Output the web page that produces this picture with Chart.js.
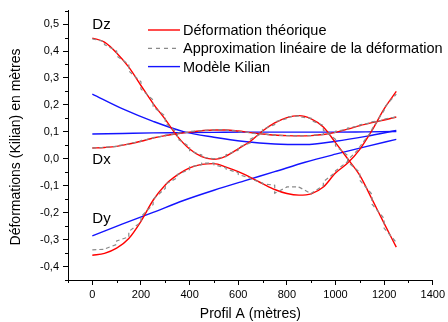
<!DOCTYPE html>
<html lang="fr">
<head>
<meta charset="utf-8">
<script src="https://cdn.jsdelivr.net/npm/chart.js@4.4.1/dist/chart.umd.min.js"></script>
<style>
  html, body { margin: 0; padding: 0; background: #fff; }
  #wrap { width: 448px; height: 322px; }
</style>
</head>
<body>
<div id="wrap"><canvas id="deformChart" width="448" height="322"></canvas></div>
<script>
// Profil A (mètres) - abscisses des courbes théoriques
const profil = [0, 50, 100, 150, 200, 250, 300, 350, 400, 450, 500, 550, 600,
                650, 700, 750, 800, 850, 900, 950, 1000, 1050, 1100, 1150, 1200, 1250];

// Déformation théorique
const dzTheorique = [0.448, 0.433, 0.393, 0.340, 0.272, 0.205, 0.146, 0.083, 0.036, 0.008, -0.002, 0.010, 0.037,
                     0.065, 0.103, 0.133, 0.153, 0.160, 0.148, 0.118, 0.060, 0.000, -0.062, -0.150, -0.240, -0.328];
const dxTheorique = [0.040, 0.042, 0.046, 0.055, 0.065, 0.077, 0.086, 0.093, 0.099, 0.104, 0.107, 0.107, 0.103,
                     0.097, 0.092, 0.088, 0.086, 0.085, 0.086, 0.090, 0.098, 0.110, 0.123, 0.134, 0.144, 0.155];
const dyTheorique = [-0.358, -0.351, -0.332, -0.296, -0.232, -0.154, -0.097, -0.060, -0.034, -0.021, -0.018, -0.031, -0.048,
                     -0.069, -0.092, -0.114, -0.129, -0.135, -0.130, -0.105, -0.053, -0.016, 0.035, 0.105, 0.185, 0.250];

// Approximation linéaire : début et fin de chaque tronçon de 50 m
const dzApproxDebut = [0.445, 0.424, 0.382, 0.326, 0.259, 0.193, 0.133, 0.074, 0.030, 0.006, 0.000, 0.015, 0.043,
                       0.073, 0.109, 0.137, 0.155, 0.156, 0.142, 0.106, 0.048, -0.012, -0.080, -0.168, -0.258];
const dzApproxFin   = [0.435, 0.400, 0.350, 0.286, 0.218, 0.158, 0.096, 0.045, 0.014, 0.000, 0.008, 0.032, 0.059,
                       0.095, 0.127, 0.149, 0.159, 0.150, 0.124, 0.072, 0.012, -0.050, -0.132, -0.222, -0.310];
const dxApproxDebut = [0.040, 0.043, 0.049, 0.057, 0.068, 0.079, 0.088, 0.095, 0.101, 0.105, 0.108, 0.106, 0.101,
                       0.095, 0.091, 0.087, 0.086, 0.085, 0.087, 0.093, 0.102, 0.114, 0.126, 0.137, 0.147];
const dxApproxFin   = [0.042, 0.046, 0.054, 0.064, 0.076, 0.085, 0.093, 0.099, 0.104, 0.107, 0.108, 0.103, 0.097,
                       0.092, 0.088, 0.086, 0.085, 0.086, 0.090, 0.098, 0.110, 0.122, 0.134, 0.144, 0.155];
const dyApproxDebut = [-0.338, -0.335, -0.305, -0.270, -0.215, -0.150, -0.095, -0.058, -0.030, -0.016, -0.022, -0.038, -0.058,
                       -0.075, -0.093, -0.128, -0.104, -0.105, -0.128, -0.085, -0.045, -0.005, 0.045, 0.110, 0.190];
const dyApproxFin   = [-0.336, -0.318, -0.290, -0.235, -0.170, -0.110, -0.070, -0.040, -0.022, -0.016, -0.034, -0.052, -0.072,
                       -0.090, -0.098, -0.105, -0.104, -0.130, -0.100, -0.050, -0.010, 0.040, 0.105, 0.180, 0.240];

// Modèle Kilian
const profilKilian = [0, 125, 250, 375, 500, 625, 750, 875, 1000, 1125, 1250];
const dzKilian = [0.240, 0.185, 0.139, 0.101, 0.080, 0.064, 0.055, 0.053, 0.065, 0.083, 0.105];
const dxKilian = [0.092, 0.094, 0.096, 0.097, 0.098, 0.099, 0.099, 0.099, 0.099, 0.100, 0.101];
const dyKilian = [-0.286, -0.242, -0.199, -0.155, -0.117, -0.082, -0.048, -0.013, 0.017, 0.045, 0.072];

// Graduations
const graduationsX = [0, 200, 400, 600, 800, 1000, 1200, 1400];
const mineursX = [-100, 100, 300, 500, 700, 900, 1100, 1300];
const graduationsY = [-0.4, -0.3, -0.2, -0.1, 0.0, 0.1, 0.2, 0.3, 0.4, 0.5];
const mineursY = [-0.45, -0.35, -0.25, -0.15, -0.05, 0.05, 0.15, 0.25, 0.35, 0.45, 0.55];

const legende = ['Déformation théorique', 'Approximation linéaire de la déformation', 'Modèle Kilian'];
const police = "'Liberation Sans', Arial, sans-serif";
const ROUGE = '#ff0000';
const GRIS = '#8a8a8a';
const BLEU = '#1414ff';

function points(xs, ys) {
    return xs.map((x, i) => ({ x: x, y: ys[i] }));
}

// tronçons en escalier : chaque segment part du début et va à la fin, puis saut vertical
function escalier(debut, fin) {
    const pts = [];
    debut.forEach((v, i) => {
        pts.push({ x: profil[i], y: v });
        pts.push({ x: profil[i + 1], y: fin[i] });
    });
    return pts;
}

function theorique(ys) {
    return { label: legende[0], data: points(profil, ys), borderColor: ROUGE, borderWidth: 1.4,
             cubicInterpolationMode: 'monotone' };
}
function approx(debut, fin) {
    return { label: legende[1], data: escalier(debut, fin), borderColor: GRIS, borderWidth: 1.2,
             borderDash: [4, 3], tension: 0 };
}
function kilian(ys) {
    return { label: legende[2], data: points(profilKilian, ys), borderColor: BLEU, borderWidth: 1.4,
             cubicInterpolationMode: 'monotone' };
}

// Titres d'axes, étiquettes Dz/Dx/Dy, graduations mineures et légende
const decorPlugin = {
    id: 'decor',
    afterDraw(chart) {
        const ctx = chart.ctx;
        const xs = chart.scales.x, ys = chart.scales.y;
        const area = chart.chartArea;
        ctx.save();
        ctx.strokeStyle = '#000';
        ctx.lineWidth = 1;
        ctx.beginPath();
        mineursX.forEach(v => {
            const px = Math.round(xs.getPixelForValue(v)) + 0.5;
            ctx.moveTo(px, area.bottom);
            ctx.lineTo(px, area.bottom + 3);
        });
        mineursY.forEach(v => {
            const py = Math.round(ys.getPixelForValue(v)) + 0.5;
            ctx.moveTo(area.left - 3, py);
            ctx.lineTo(area.left, py);
        });
        ctx.stroke();

        ctx.fillStyle = '#000';
        ctx.font = '14px ' + police;
        ctx.textAlign = 'center';
        ctx.textBaseline = 'middle';
        ctx.fillText('Profil A (mètres)', (area.left + area.right) / 2, 314);
        ctx.save();
        ctx.translate(16.5, 147);
        ctx.rotate(-Math.PI / 2);
        ctx.fillText('Déformations (Kilian) en mètres', 0, 0);
        ctx.restore();

        ctx.font = '15px ' + police;
        ctx.textAlign = 'left';
        ctx.textBaseline = 'alphabetic';
        ctx.fillText('Dz', xs.getPixelForValue(0), 29);
        ctx.fillText('Dx', xs.getPixelForValue(0), 164);
        ctx.fillText('Dy', xs.getPixelForValue(0), 223);

        // légende
        const styles = [[ROUGE, []], [GRIS, [4, 4]], [BLEU, []]];
        ctx.font = '14.5px ' + police;
        ctx.textBaseline = 'middle';
        legende.forEach((txt, i) => {
            const y = 30 + i * 18.3;
            ctx.strokeStyle = styles[i][0];
            ctx.setLineDash(styles[i][1]);
            ctx.lineWidth = i === 1 ? 1.2 : 1.4;
            ctx.beginPath();
            ctx.moveTo(148, y);
            ctx.lineTo(180, y);
            ctx.stroke();
            ctx.fillStyle = '#000';
            ctx.fillText(txt, 183, y + 1);
        });
        ctx.restore();
    }
};

new Chart(document.getElementById('deformChart'), {
    type: 'line',
    data: {
        datasets: [
            approx(dzApproxDebut, dzApproxFin),
            approx(dxApproxDebut, dxApproxFin),
            approx(dyApproxDebut, dyApproxFin),
            theorique(dzTheorique),
            theorique(dxTheorique),
            theorique(dyTheorique),
            kilian(dzKilian),
            kilian(dxKilian),
            kilian(dyKilian)
        ]
    },
    options: {
        responsive: false,
        animation: false,
        layout: { padding: { top: 7, right: 13, left: 0, bottom: 0 } },
        elements: { point: { radius: 0 } },
        plugins: {
            legend: { display: false },
            tooltip: { enabled: false }
        },
        scales: {
            x: {
                type: 'linear',
                min: -100,
                max: 1400,
                afterBuildTicks: s => { s.ticks = graduationsX.map(v => ({ value: v })); },
                afterFit: s => { s.height = 42; },
                grid: { drawOnChartArea: false, color: '#000', tickLength: 5 },
                border: { color: '#000', width: 1 },
                ticks: {
                    color: '#000',
                    autoSkip: false,
                    maxRotation: 0,
                    padding: 3,
                    font: { family: police, size: 11 },
                    callback: v => String(v)
                }
            },
            y: {
                min: -0.45,
                max: 0.55,
                afterBuildTicks: s => { s.ticks = graduationsY.map(v => ({ value: v })); },
                afterFit: s => { s.width = 68; },
                grid: { drawOnChartArea: false, color: '#000', tickLength: 5 },
                border: { color: '#000', width: 1 },
                ticks: {
                    color: '#000',
                    autoSkip: false,
                    padding: 4,
                    font: { family: police, size: 11 },
                    callback: v => v.toFixed(1).replace('.', ',')
                }
            }
        }
    },
    plugins: [decorPlugin]
});
</script>
</body>
</html>
